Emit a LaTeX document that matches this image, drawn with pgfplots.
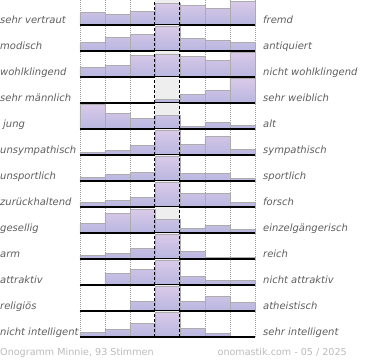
\documentclass[border=0pt]{standalone}
\usepackage{pgfplots}
\pgfplotsset{compat=1.18}
\usepgfplotslibrary{groupplots}
\usepackage{fontspec}
\setmainfont{DejaVu Sans}
\definecolor{lbl}{HTML}{5E5E5E}
\definecolor{foot}{HTML}{BBBBBB}
\definecolor{bartop}{HTML}{DACAE8}
\definecolor{barmid}{HTML}{C8CEEB}
\definecolor{barbot}{HTML}{B8B6E0}
\definecolor{centerbg}{HTML}{EEEEEE}
\newcommand{\rowbg}{\fill[centerbg] (axis cs:3,0) rectangle (axis cs:4,26);}
\newcommand{\rowfg}[2]{%
  \draw[black, line width=1pt, dash pattern=on 3pt off 2pt] (axis cs:3,0) -- (axis cs:3,26);
  \draw[black, line width=1pt, dash pattern=on 3pt off 2pt] (axis cs:4,0) -- (axis cs:4,26);
  \draw[black, line width=1.4pt] (axis cs:0,0) -- (axis cs:7,0);
  \node[anchor=base west, inner sep=0pt, text=lbl, font=\fontsize{10pt}{12pt}\selectfont\itshape] at ([xshift=-80pt,yshift=2pt]rel axis cs:0,0) {#1};
  \node[anchor=base west, inner sep=0pt, text=lbl, font=\fontsize{10pt}{12pt}\selectfont\itshape] at ([xshift=8pt,yshift=2pt]rel axis cs:1,0) {#2};}
\pgfplotsset{
  barstyle/.style={ybar interval, draw=gray!65, line width=0.5pt, top color=bartop, middle color=barmid, bottom color=barbot},
}
\begin{document}
\begin{tikzpicture}
\begin{groupplot}[
  group style={group size=1 by 13, vertical sep=0pt},
  width=175pt, height=26pt, scale only axis,
  xmin=0, xmax=7, ymin=0, ymax=26,
  clip=false,
  axis line style={draw=none},
  tick style={draw=none},
  xtick={0,1,2,5,6,7}, xticklabels={},
  ytick=\empty,
  xmajorgrids,
  major grid style={gray!75, line width=0.6pt, dash pattern=on 1pt off 1pt},
]
\nextgroupplot
\rowbg
\addplot[barstyle] coordinates {(0,12.3)(1,10.3)(2,13.3)(3,21.7)(4,19.7)(5,16.7)(6,24)(7,0)};
\rowfg{sehr vertraut}{fremd}
\nextgroupplot
\rowbg
\addplot[barstyle] coordinates {(0,8.3)(1,13.3)(2,16.3)(3,24.6)(4,12.3)(5,11)(6,8.3)(7,0)};
\rowfg{modisch}{antiquiert}
\nextgroupplot
\rowbg
\addplot[barstyle] coordinates {(0,10)(1,12)(2,22)(3,22.7)(4,21)(5,17)(6,25)(7,0)};
\rowfg{wohlklingend}{nicht wohlklingend}
\nextgroupplot
\rowbg
\addplot[barstyle] coordinates {(0,0)(1,0)(2,0)(3,3.3)(4,8.7)(5,13)(6,25)(7,0)};
\rowfg{sehr männlich}{sehr weiblich}
\nextgroupplot
\rowbg
\addplot[barstyle] coordinates {(0,24.7)(1,15.3)(2,10.7)(3,13.7)(4,2.3)(5,6.3)(6,3.3)(7,0)};
\rowfg{\hspace*{3pt}jung}{alt}
\nextgroupplot
\rowbg
\addplot[barstyle] coordinates {(0,2.5)(1,5)(2,9.5)(3,25)(4,10.3)(5,18.5)(6,5.3)(7,0)};
\rowfg{unsympathisch}{sympathisch}
\nextgroupplot
\rowbg
\addplot[barstyle] coordinates {(0,3.3)(1,6.3)(2,8.3)(3,25)(4,7.7)(5,7.3)(6,2.3)(7,0)};
\rowfg{unsportlich}{sportlich}
\nextgroupplot
\rowbg
\addplot[barstyle] coordinates {(0,5)(1,6.7)(2,10)(3,25)(4,13.3)(5,13.3)(6,5)(7,0)};
\rowfg{zurückhaltend}{forsch}
\nextgroupplot
\rowbg
\addplot[barstyle] coordinates {(0,9.7)(1,19.7)(2,23.7)(3,14)(4,4.7)(5,7.5)(6,3.5)(7,0)};
\rowfg{gesellig}{einzelgängerisch}
\nextgroupplot
\rowbg
\addplot[barstyle] coordinates {(0,3.3)(1,5.3)(2,10.7)(3,25)(4,8)(5,2)(6,1.3)(7,0)};
\rowfg{arm}{reich}
\nextgroupplot
\rowbg
\addplot[barstyle] coordinates {(0,0)(1,11.7)(2,15.7)(3,25)(4,8.3)(5,4.3)(6,4.3)(7,0)};
\rowfg{attraktiv}{nicht attraktiv}
\nextgroupplot
\rowbg
\addplot[barstyle] coordinates {(0,0)(1,0)(2,9.3)(3,25)(4,10)(5,14.3)(6,9)(7,0)};
\rowfg{religiös}{atheistisch}
\nextgroupplot
\rowbg
\addplot[barstyle] coordinates {(0,5)(1,8)(2,13.3)(3,25)(4,9)(5,3.3)(6,0)(7,0)};
\rowfg{nicht intelligent}{sehr intelligent}
\end{groupplot}
\node[anchor=base west, inner sep=0pt, text=foot, font=\fontsize{9.6pt}{11pt}\selectfont] at ([xshift=-80pt,yshift=-18pt]group c1r13.south west) {Onogramm Minnie, 93 Stimmen};
\node[anchor=base east, inner sep=0pt, text=foot, font=\fontsize{9.6pt}{11pt}\selectfont] at ([xshift=92pt,yshift=-18pt]group c1r13.south east) {onomastik.com - 05 / 2025};
\pgfresetboundingbox
\path ([xshift=-80pt,yshift=-1pt]group c1r1.north west) rectangle ++(370pt,-360pt);
\end{tikzpicture}
\end{document}
